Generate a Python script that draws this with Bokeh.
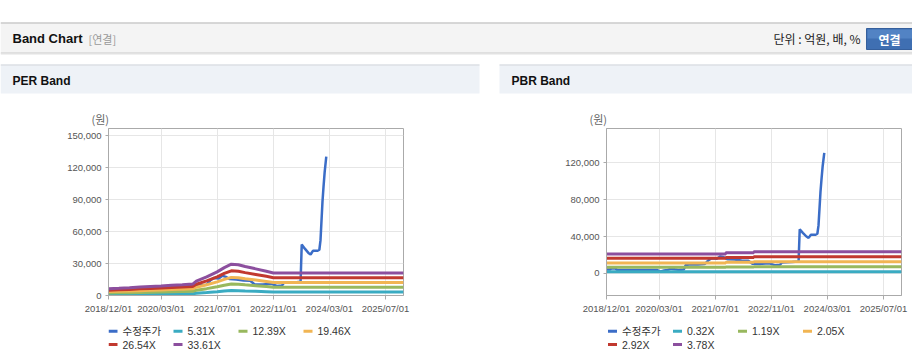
import pandas as pd
from bokeh.plotting import figure
from bokeh.layouts import column, row
from bokeh.models import (Range1d, FixedTicker, NumeralTickFormatter, DatetimeTickFormatter)
from bokeh.core.properties import value
from bokeh.embed import file_html
from bokeh.resources import INLINE

# ---------------- data ----------------
PRICE_DATES = ["2018-12-01", "2019-01-01", "2019-01-15", "2019-02-15", "2019-03-01", "2019-06-01",
               "2019-10-01", "2020-01-01", "2020-02-15", "2020-03-15", "2020-04-15", "2020-05-15",
               "2020-06-15", "2020-07-15", "2020-08-15", "2020-10-01", "2020-10-20", "2020-12-01",
               "2021-02-01", "2021-04-01", "2021-05-01", "2021-06-01", "2021-07-15", "2021-08-15",
               "2021-09-15", "2021-10-15", "2021-12-15", "2022-02-15", "2022-04-15", "2022-05-20",
               "2022-08-01", "2022-10-15", "2022-12-01", "2023-01-15", "2023-02-01", "2023-05-01",
               "2023-06-25", "2023-07-05", "2023-08-01", "2023-09-01", "2023-09-20", "2023-10-10",
               "2023-11-20", "2023-12-05", "2023-12-15", "2024-01-01", "2024-01-10", "2024-01-20",
               "2024-02-03"]
PRICE = [4200, 4300, 5600, 5500, 4000, 3900,
         3800, 3900, 3700, 2100, 3200, 3900,
         5200, 4500, 3900, 4200, 9300, 10000,
         9800, 10200, 14000, 16500, 16000, 18500,
         17500, 15500, 15000, 14000, 13800, 10600,
         10400, 11000, 9000, 9500, 12000, 12300,
         13000, 47800, 44000, 40000, 38500, 42000,
         42000, 43000, 52000, 88000, 102000, 116000,
         130500]

EPS_DATES = ["2018-12-01", "2019-03-01", "2019-06-01", "2019-09-01", "2019-12-01", "2020-03-01",
             "2020-06-01", "2020-09-01", "2020-12-01", "2021-01-01", "2021-04-01", "2021-07-01",
             "2021-09-01", "2021-11-01", "2022-01-01", "2022-03-01", "2022-06-01", "2022-09-01",
             "2022-11-01", "2025-12-05"]
EPS = [190, 200, 215, 235, 250, 265,
       285, 300, 320, 400, 520, 660,
       780, 875, 860, 810, 745, 680,
       631, 631]

BPS_DATES = ["2018-12-01", "2021-10-01", "2022-06-01", "2025-12-05"]
BPS = [5600, 5900, 6200, 6200]

PER_MULT = [5.31, 12.39, 19.46, 26.54, 33.61]
PBR_MULT = [0.32, 1.19, 2.05, 2.92, 3.78]
PRICE_LABEL = "수정주가"

X_TICKS = ["2018-12-01", "2020-03-01", "2021-07-01", "2022-11-01", "2024-03-01", "2025-07-01"]
PER_Y_TICKS = [0, 30000, 60000, 90000, 120000, 150000]
PBR_Y_TICKS = [0, 40000, 80000, 120000]

# ---------------- styles ----------------
FONT = "Liberation Sans, Noto Sans CJK KR"
KFONT = "Noto Sans CJK KR"
PRICE_COLOR = "#3b6dc7"
BAND_COLORS = ["#3aabc2", "#98b85e", "#f1b553", "#c1392f", "#8c4f9e"]
CHART_H = 225
LEG_H = 41
FOOT_H = 3
FRAME_W = 295
W = 912

def ts(s):
    return pd.Timestamp(s)

x_start = ts(X_TICKS[0])
x_last_tick = ts(X_TICKS[-1])
x_end = x_start + (x_last_tick - x_start) * (FRAME_W / 277)


def blank(width, height, **kw):
    f = figure(width=width, height=height, x_range=Range1d(0, width), y_range=Range1d(height, 0),
               toolbar_location=None, output_backend="svg", min_border=0,
               x_axis_location=None, y_axis_location=None, **kw)
    f.grid.visible = False
    f.outline_line_color = None
    f.background_fill_color = "white"
    return f


def make_chart(width, mbl, mbr, y0, y1, yticks, mult, base_dates, base_vals, step):
    p = figure(width=width, height=CHART_H, x_axis_type="datetime",
               x_range=Range1d(x_start, x_end), y_range=Range1d(y0, y1),
               toolbar_location=None, output_backend="svg",
               min_border_left=mbl, min_border_right=mbr, min_border_top=33, min_border_bottom=25,
               title="(원)")
    p.title.text_font = KFONT
    p.title.text_font_size = "11px"
    p.title.text_font_style = "normal"
    p.title.text_color = "#666666"
    p.title.offset = -17
    p.title.standoff = 3
    p.outline_line_color = "#aaaaaa"
    p.background_fill_color = "white"
    p.border_fill_color = "white"

    for ax in (p.xaxis[0], p.yaxis[0]):
        ax.axis_line_color = "#aaaaaa"
        ax.major_tick_line_color = "#aaaaaa"
        ax.minor_tick_line_color = None
        ax.major_tick_in = 0
        ax.major_label_text_font = FONT
        ax.major_label_text_font_size = "9.5px"
        ax.major_label_text_color = "#555555"
    p.xaxis.major_tick_out = 4
    p.xaxis.major_label_standoff = 3
    p.yaxis.major_tick_out = 3
    p.yaxis.major_label_standoff = 4

    p.xaxis.ticker = FixedTicker(ticks=[ts(t).value / 1e6 for t in X_TICKS])
    p.xaxis.formatter = DatetimeTickFormatter(
        days="%Y/%m/%d", months="%Y/%m/%d", years="%Y/%m/%d")
    p.yaxis.ticker = FixedTicker(ticks=yticks)
    p.yaxis.formatter = NumeralTickFormatter(format="0,0")
    p.xgrid.ticker = p.xaxis.ticker
    p.ygrid.ticker = p.yaxis.ticker
    p.grid.grid_line_color = "#e6e6e6"
    p.grid.grid_line_width = 1

    pd_dates = [ts(d) for d in PRICE_DATES]
    p.line(pd_dates, PRICE, line_color=PRICE_COLOR, line_width=2.5)
    bd = [ts(d) for d in base_dates]
    for m, c in zip(mult, BAND_COLORS):
        vals = [b * m for b in base_vals]
        if step:
            p.step(bd, vals, mode="after", line_color=c, line_width=3)
        else:
            p.line(bd, vals, line_color=c, line_width=3)
    return p


def make_legend(width, mbl, mbr, x_first, mult):
    # the legend strip shares the chart's left/right borders so its frame lines up with the chart
    lg = figure(width=width, height=LEG_H, x_range=Range1d(0, FRAME_W), y_range=Range1d(LEG_H, 0),
                toolbar_location=None, output_backend="svg",
                min_border_left=mbl, min_border_right=mbr, min_border_top=0, min_border_bottom=0,
                x_axis_location=None, y_axis_location=None)
    lg.grid.visible = False
    lg.outline_line_color = None
    labels = [PRICE_LABEL] + [f"{m:.2f}X" for m in mult]
    colors = [PRICE_COLOR] + BAND_COLORS
    xs = [x_first + (i % 4) * 65 for i in range(len(labels))]
    ys = [10.7 + (i // 4) * 13.3 for i in range(len(labels))]
    lg.segment(x0=xs, y0=ys, x1=[x + 9 for x in xs], y1=ys, line_color=colors, line_width=3)
    lg.text(x=[x + 14 for x in xs], y=ys, text=labels, text_font=value(FONT),
            text_font_size="10.5px", text_baseline="middle", text_color="#333333")
    return lg


# ---------------- header ----------------
hdr = blank(W, 95)
hdr.quad(left=[0], right=[W], top=[22], bottom=[52], fill_color="#f4f4f4", line_color=None)
hdr.segment(x0=[0], y0=[22.5], x1=[W], y1=[22.5], line_color="#b5b5b5", line_width=1)
hdr.segment(x0=[0], y0=[52.5], x1=[W], y1=[52.5], line_color="#c4c4c4", line_width=1)
hdr.segment(x0=[0], y0=[53.5], x1=[W], y1=[53.5], line_color="#e2e2e2", line_width=1)
hdr.text(x=[12], y=[38], text=["Band Chart"], text_font=value(FONT), text_font_size="13px",
         text_font_style="bold", text_baseline="middle", text_color="#111111")
hdr.text(x=[88], y=[38], text=["[연결]"], text_font=value(KFONT), text_font_size="11px",
         text_baseline="middle", text_color="#999999")
hdr.text(x=[860], y=[38], text=["단위 : 억원, 배, %"], text_font=value(KFONT), text_font_size="12px",
         text_baseline="middle", text_align="right", text_color="#222222")
hdr.quad(left=[866], right=[913], top=[28], bottom=[49], fill_color="#3f6fb2", line_color="#355f9c")
hdr.quad(left=[867], right=[913], top=[29], bottom=[38], fill_color="#5283c4", line_color=None)
hdr.text(x=[889], y=[38.5], text=["연결"], text_font=value(KFONT), text_font_size="12px",
         text_font_style="bold", text_baseline="middle", text_align="center", text_color="white")

PANELS = [(0, 479, "PER Band"), (499, W, "PBR Band")]
for l, r, t in PANELS:
    hdr.quad(left=[l], right=[r], top=[64], bottom=[93], fill_color="#eef2f7", line_color=None)
    hdr.segment(x0=[l], y0=[64.5], x1=[r], y1=[64.5], line_color="#d3d6db", line_width=1)
    hdr.text(x=[l + 12], y=[80], text=[t], text_font=value(FONT), text_font_size="12px",
             text_font_style="bold", text_baseline="middle", text_color="#111111")

# ---------------- footer (panel bottom borders) ----------------
foot = blank(W, FOOT_H)
foot.quad(left=[pl[0] for pl in PANELS], right=[pl[1] for pl in PANELS], top=[1], bottom=[2],
          fill_color="#d0d0d0", line_color=None)

# ---------------- charts ----------------
per = make_chart(490, 108, 87, 0, 156900, PER_Y_TICKS, PER_MULT, EPS_DATES, EPS, False)
pbr = make_chart(422, 116, 11, -23800, 156800, PBR_Y_TICKS, PBR_MULT, BPS_DATES, BPS, True)
per_leg = make_legend(490, 108, 87, 0, PER_MULT)
pbr_leg = make_legend(422, 116, 11, 1.5, PBR_MULT)

layout = column(hdr,
                row(column(per, per_leg, spacing=0), column(pbr, pbr_leg, spacing=0), spacing=0),
                foot, spacing=0)
open("out.html", "w").write(file_html(layout, INLINE))
